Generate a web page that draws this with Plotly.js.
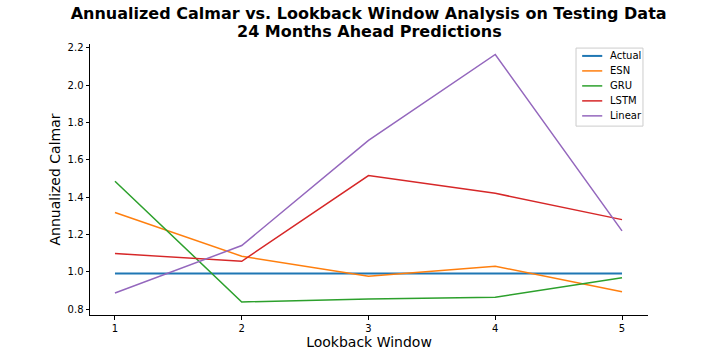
<!DOCTYPE html>
<html>
<head>
<meta charset="utf-8">
<script src="https://cdn.plot.ly/plotly-3.0.1.min.js"></script>
<style>body{margin:0;background:#fff;}</style>
</head>
<body>
<div id="chart" style="width:720px;height:360px;"></div>
<script>
// lookback windows on the x axis
var lookback = [1, 2, 3, 4, 5];

// annualized calmar per model
var actual = [0.992, 0.992, 0.992, 0.992, 0.992];
var esn = [1.318, 1.084, 0.977, 1.030, 0.894];
var gru = [1.486, 0.839, 0.855, 0.864, 0.968];
var lstm = [1.098, 1.057, 1.516, 1.421, 1.280];
var linear = [0.887, 1.141, 1.705, 2.165, 1.220];

var names = ["Actual", "ESN", "GRU", "LSTM", "Linear"];
var colors = ["#1f77b4", "#ff7f0e", "#2ca02c", "#d62728", "#9467bd"];
var series = [actual, esn, gru, lstm, linear];

var data = series.map(function (ys, i) {
    return {
        x: lookback,
        y: ys,
        name: names[i],
        type: "scatter",
        mode: "lines",
        line: {color: colors[i], width: i == 0 ? 2 : 1.5},
        showlegend: false
    };
});

// matplotlib-style legend box drawn by hand (plotly's rows are too tall)
var shapes = [{
    type: "rect", xref: "paper", yref: "paper",
    x0: 0.871, x1: 0.991, y0: 0.697, y1: 0.985,
    fillcolor: "rgba(255,255,255,0.8)", line: {color: "#ccc", width: 1}
}];
// second title line, placed as its own text to get the tighter line spacing
var annotations = [{
    text: "<b>24 Months Ahead Predictions</b>",
    xref: "paper", yref: "paper", x: 0.5, y: (315 - 32) / 271,
    xanchor: "center", yanchor: "middle", showarrow: false,
    font: {size: 16, color: "#000"}
}];
names.forEach(function (n, i) {
    var yy = 0.956 - i * 0.0553;
    shapes.push({
        type: "line", xref: "paper", yref: "paper",
        x0: 0.882, x1: 0.918, y0: yy, y1: yy,
        line: {color: colors[i], width: i == 0 ? 2 : 1.5}
    });
    annotations.push({
        text: n, xref: "paper", yref: "paper", x: 0.929, y: yy,
        xanchor: "left", yanchor: "middle", showarrow: false,
        font: {size: 10, color: "#000"}
    });
});

var layout = {
    width: 720,
    height: 360,
    margin: {l: 90, r: 72, t: 44, b: 45},
    paper_bgcolor: "#fff",
    plot_bgcolor: "#fff",
    font: {family: "DejaVu Sans", size: 10, color: "#000"},
    title: {
        text: "<b>Annualized Calmar vs. Lookback Window Analysis on Testing Data</b>",
        font: {size: 16, color: "#000"},
        x: 0.512, xanchor: "center", yref: "container", y: 1 - 13.5 / 360, yanchor: "middle"
    },
    xaxis: {
        range: [0.803, 5.205],
        tickvals: lookback,
        showgrid: false, zeroline: false,
        showline: true, linecolor: "#000", linewidth: 1,
        ticks: "outside", ticklen: 3.5, tickcolor: "#000",
        title: {text: "Lookback Window", font: {size: 14}, standoff: 4}
    },
    yaxis: {
        range: [0.769, 2.221],
        tickvals: [0.8, 1.0, 1.2, 1.4, 1.6, 1.8, 2.0, 2.2],
        ticktext: ["0.8", "1.0", "1.2", "1.4", "1.6", "1.8", "2.0", "2.2"],
        showgrid: false, zeroline: false,
        showline: true, linecolor: "#000", linewidth: 1,
        ticks: "outside", ticklen: 3.5, tickcolor: "#000",
        title: {text: "Annualized Calmar", font: {size: 14}, standoff: 3}
    },
    shapes: shapes,
    annotations: annotations
};

Plotly.newPlot("chart", data, layout, {displayModeBar: false});
</script>
</body>
</html>
